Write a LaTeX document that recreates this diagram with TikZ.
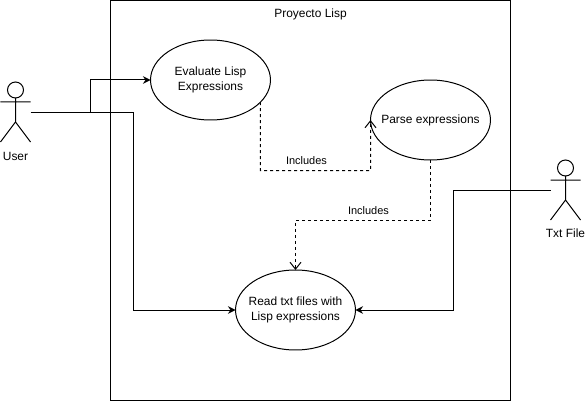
\documentclass[tikz,border=0pt]{standalone}
\usepackage{fontspec}
\setmainfont{Liberation Sans}
\usetikzlibrary{positioning, arrows.meta, shapes.geometric}
\tikzset{
    usecase/.style={draw, ellipse, minimum width=2.4cm, minimum height=1.6cm, inner xsep=-.4cm, inner ysep=-.1cm, outer sep=0pt, align=center, font=\fontsize{6.8}{8.5}\selectfont},
    head/.style={draw, circle, minimum size=.32cm, inner sep=0pt, outer sep=0pt},
    actorname/.style={inner sep=0pt, font=\fontsize{6.8}{8.5}\selectfont},
    edgename/.style={inner sep=0pt, font=\fontsize{6.25}{8}\selectfont},
    flow/.style={-{Stealth[length=.15cm,width=.15cm]}},
    includes/.style={dashed, dash pattern=on .06cm off .06cm, -{Straight Barb[length=.14cm,width=.22cm]}}
}
\begin{document}
\begin{tikzpicture}[x=.02cm, y=-.02cm, line width=.02cm]
    \useasboundingbox (0,0) rectangle (585,402);
    % system box
    \node[draw, minimum width=8cm, minimum height=8cm, inner sep=0pt, outer sep=0pt] (frame) at (310.5,200.5) {};
    \node[actorname] (title) at (310.5,14.5) {Proyecto Lisp};
    % use cases
    \node[usecase] (evaluate) at (210.5,80) {Evaluate Lisp\\Expressions};
    \node[usecase] (parse) at (430.5,120) {Parse expressions};
    \node[usecase] (read) at (295.5,310) {Read txt files with\\Lisp expressions};
    % user
    \node[head] (userhead) at (15.5,90) {};
    \coordinate (userhip) at (15.5,122);
    \coordinate (userarml) at (.5,102);
    \coordinate (userarmr) at (30.5,102);
    \coordinate (userfootl) at (.5,142);
    \coordinate (userfootr) at (30.5,142);
    \draw (userhead.south)--(userhip) (userarml)--(userarmr) (userfootl)--(userhip)--(userfootr);
    \node[actorname] (user) at (15.5,156) {User};
    % txt file
    \node[head] (txthead) at (565.5,168) {};
    \coordinate (txthip) at (565.5,200);
    \coordinate (txtarml) at (550.5,180);
    \coordinate (txtarmr) at (580.5,180);
    \coordinate (txtfootl) at (550.5,220);
    \coordinate (txtfootr) at (580.5,220);
    \draw (txthead.south)--(txthip) (txtarml)--(txtarmr) (txtfootl)--(txthip)--(txtfootr);
    \node[actorname] (txt) at (565.5,233.5) {Txt File};
    % connectors
    \coordinate (userport) at (30.5,112.5);
    \coordinate (userfork) at (90.5,112.5);
    \coordinate (usercorner) at (133.5,112.5);
    \coordinate (txtport) at (550.5,190.5);
    \coordinate (txtcorner) at (453.5,190.5);
    \coordinate (parsecorner) at (370.5,170.5);
    \coordinate (readcorner) at (430.5,220.5);
    \coordinate (readdrop) at (295.5,220.5);
    \draw (userport)--(usercorner);
    \draw[flow] (userfork)|-(evaluate.west);
    \draw[flow] (usercorner)|-(read.west);
    \draw[flow] (txtport)--(txtcorner)|-(read.east);
    \draw[includes] (evaluate.-24)|-(parsecorner)--(parse.west);
    \draw[includes] (parse.south)--(readcorner)--(readdrop)--(read.north);
    \node[edgename] (includesa) at (306.5,161) {Includes};
    \node[edgename] (includesb) at (368.5,211) {Includes};
\end{tikzpicture}
\end{document}
